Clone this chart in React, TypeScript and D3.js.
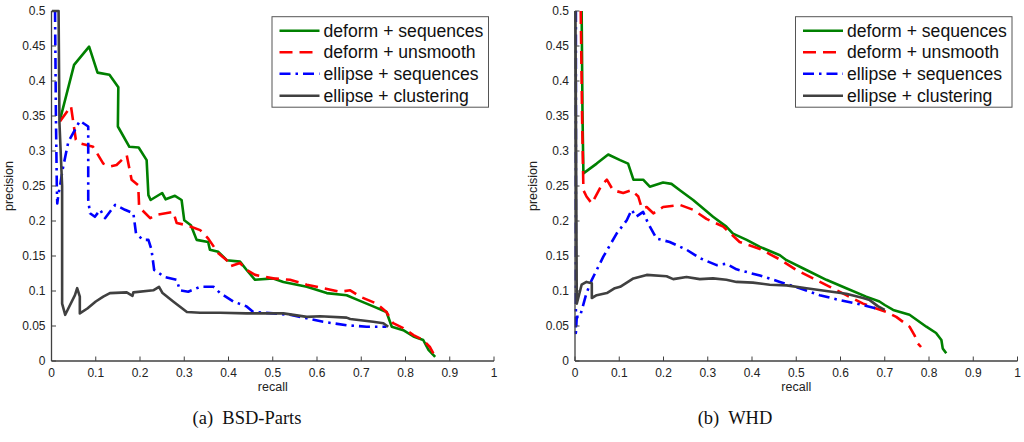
import React from "react";
import * as d3 from "d3";

// ---------- data ----------
const xTicks = [0, 0.1, 0.2, 0.3, 0.4, 0.5, 0.6, 0.7, 0.8, 0.9, 1];
const yTicks = [0, 0.05, 0.1, 0.15, 0.2, 0.25, 0.3, 0.35, 0.4, 0.45, 0.5];
const seriesNames = ["deform + sequences", "deform + unsmooth", "ellipse + sequences", "ellipse + clustering"];
const captions = ["(a)  BSD-Parts", "(b)  WHD"];

// BSD-Parts
const bsdDeformSeq: [number, number][] = [
  [0.019, 0.344], [0.051, 0.423], [0.085, 0.449], [0.104, 0.412], [0.131, 0.409], [0.151, 0.391],
  [0.15, 0.335], [0.176, 0.306], [0.197, 0.305], [0.215, 0.287], [0.219, 0.237], [0.224, 0.23],
  [0.25, 0.24], [0.258, 0.231], [0.279, 0.236], [0.294, 0.23], [0.3, 0.201], [0.315, 0.194],
  [0.328, 0.173], [0.354, 0.17], [0.358, 0.159], [0.377, 0.156], [0.396, 0.144], [0.426, 0.142],
  [0.441, 0.13], [0.46, 0.116], [0.501, 0.118], [0.524, 0.113], [0.577, 0.106], [0.622, 0.097],
  [0.667, 0.094], [0.693, 0.087], [0.727, 0.078], [0.757, 0.07], [0.769, 0.049], [0.795, 0.044],
  [0.818, 0.035], [0.84, 0.03], [0.852, 0.016], [0.867, 0.006],
];
const bsdDeformUnsmooth: [number, number][] = [
  [0.019, 0.342], [0.044, 0.364], [0.055, 0.316], [0.064, 0.311], [0.094, 0.306], [0.117, 0.282],
  [0.132, 0.278], [0.147, 0.28], [0.17, 0.294], [0.181, 0.259], [0.196, 0.251], [0.198, 0.22],
  [0.223, 0.204], [0.238, 0.209], [0.275, 0.213], [0.283, 0.197], [0.306, 0.194], [0.336, 0.187],
  [0.354, 0.175], [0.377, 0.154], [0.396, 0.144], [0.403, 0.135], [0.426, 0.14], [0.441, 0.13],
  [0.46, 0.123], [0.501, 0.118], [0.539, 0.116], [0.577, 0.109], [0.614, 0.104], [0.652, 0.099],
  [0.675, 0.101], [0.697, 0.092], [0.735, 0.082], [0.757, 0.07], [0.772, 0.054], [0.795, 0.047],
  [0.818, 0.037], [0.84, 0.03], [0.855, 0.02], [0.863, 0.011],
];
const bsdEllipseSeq: [number, number][] = [
  [0.008, 0.5], [0.01, 0.35], [0.012, 0.25], [0.013, 0.225], [0.016, 0.24], [0.019, 0.249],
  [0.025, 0.273], [0.038, 0.313], [0.064, 0.343], [0.083, 0.335], [0.083, 0.23], [0.087, 0.211],
  [0.098, 0.206], [0.11, 0.216], [0.121, 0.204], [0.144, 0.223], [0.166, 0.216], [0.185, 0.211],
  [0.191, 0.182], [0.207, 0.173], [0.219, 0.173], [0.226, 0.159], [0.232, 0.13], [0.256, 0.12],
  [0.283, 0.116], [0.29, 0.101], [0.309, 0.099], [0.336, 0.106], [0.366, 0.106], [0.381, 0.097],
  [0.411, 0.085], [0.441, 0.078], [0.456, 0.07], [0.501, 0.068], [0.539, 0.066], [0.577, 0.061],
  [0.614, 0.056], [0.667, 0.051], [0.712, 0.049], [0.757, 0.049],
];
const bsdEllipseClust: [number, number][] = [
  [0.001, 0.5], [0.016, 0.5], [0.018, 0.34], [0.024, 0.25], [0.024, 0.082], [0.031, 0.066],
  [0.038, 0.075], [0.053, 0.094], [0.058, 0.104], [0.064, 0.092], [0.064, 0.068], [0.081, 0.075],
  [0.1, 0.085], [0.117, 0.092], [0.132, 0.097], [0.17, 0.098], [0.183, 0.093], [0.185, 0.098],
  [0.23, 0.101], [0.243, 0.106], [0.251, 0.097], [0.275, 0.085], [0.306, 0.07], [0.336, 0.069],
  [0.381, 0.069], [0.441, 0.068], [0.524, 0.068], [0.577, 0.063], [0.607, 0.064], [0.667, 0.062],
  [0.675, 0.06], [0.727, 0.056], [0.75, 0.054], [0.761, 0.049],
];

// WHD
const whdDeformSeq: [number, number][] = [
  [0.015, 0.5], [0.017, 0.35], [0.019, 0.268], [0.049, 0.282], [0.075, 0.295], [0.102, 0.287],
  [0.12, 0.282], [0.132, 0.259], [0.154, 0.259], [0.169, 0.249], [0.199, 0.255], [0.218, 0.253],
  [0.237, 0.244], [0.267, 0.23], [0.312, 0.206], [0.342, 0.192], [0.357, 0.182], [0.388, 0.173],
  [0.418, 0.163], [0.463, 0.151], [0.478, 0.144], [0.523, 0.13], [0.568, 0.116], [0.613, 0.104],
  [0.658, 0.092], [0.688, 0.085], [0.7, 0.08], [0.719, 0.073], [0.756, 0.066], [0.794, 0.049],
  [0.816, 0.04], [0.828, 0.03], [0.831, 0.018], [0.839, 0.011],
];
const whdDeformUnsmooth: [number, number][] = [
  [0.013, 0.5], [0.016, 0.35], [0.019, 0.244], [0.026, 0.235], [0.038, 0.225], [0.06, 0.251],
  [0.072, 0.259], [0.086, 0.244], [0.109, 0.24], [0.128, 0.244], [0.143, 0.235], [0.151, 0.218],
  [0.162, 0.22], [0.177, 0.211], [0.199, 0.22], [0.237, 0.223], [0.267, 0.216], [0.297, 0.203],
  [0.335, 0.192], [0.372, 0.17], [0.418, 0.16], [0.463, 0.145], [0.5, 0.13], [0.538, 0.118],
  [0.576, 0.106], [0.613, 0.094], [0.651, 0.082], [0.681, 0.075], [0.704, 0.07], [0.726, 0.063],
  [0.756, 0.049], [0.767, 0.037], [0.775, 0.025], [0.782, 0.02],
];
const whdEllipseSeq: [number, number][] = [
  [0.002, 0.5], [0.002, 0.04], [0.004, 0.063], [0.011, 0.063], [0.026, 0.097], [0.038, 0.116],
  [0.064, 0.149], [0.094, 0.182], [0.117, 0.201], [0.128, 0.216], [0.138, 0.206], [0.154, 0.213],
  [0.165, 0.197], [0.184, 0.175], [0.214, 0.17], [0.252, 0.159], [0.282, 0.147], [0.32, 0.137],
  [0.342, 0.139], [0.365, 0.131], [0.418, 0.122], [0.463, 0.113], [0.508, 0.104], [0.553, 0.094],
  [0.598, 0.087], [0.643, 0.081], [0.681, 0.075],
];
const whdEllipseClust: [number, number][] = [
  [0.001, 0.5], [0.004, 0.082], [0.015, 0.109], [0.026, 0.113], [0.038, 0.111], [0.038, 0.09],
  [0.049, 0.094], [0.072, 0.097], [0.09, 0.104], [0.102, 0.106], [0.132, 0.118], [0.162, 0.123],
  [0.207, 0.121], [0.222, 0.117], [0.252, 0.12], [0.282, 0.117], [0.312, 0.118], [0.342, 0.116],
  [0.365, 0.113], [0.402, 0.112], [0.44, 0.109], [0.478, 0.108], [0.523, 0.104], [0.568, 0.1],
  [0.613, 0.096], [0.651, 0.09], [0.666, 0.087], [0.685, 0.078], [0.7, 0.073],
];

const panels = [
  { caption: captions[0], series: [bsdDeformSeq, bsdDeformUnsmooth, bsdEllipseSeq, bsdEllipseClust] },
  { caption: captions[1], series: [whdDeformSeq, whdDeformUnsmooth, whdEllipseSeq, whdEllipseClust] },
];

// ---------- styles ----------
const colors = ["#008000", "#ff0000", "#0000ff", "#404040"];
const dashes = [undefined, "13,7", "11,5,2.5,5", undefined];
const widths = [2.6, 2.6, 2.6, 2.6];
const axisColor = "#404040";
const sans = "Liberation Sans, Arial, Helvetica, sans-serif";

const panelLeft = [51.5, 575];
const axW = 442.5;
const axTop = 11;
const axBottom = 361;

function Panel({ idx }: { idx: number }) {
  const p = panels[idx];
  const x0 = panelLeft[idx];
  const x = d3.scaleLinear().domain([0, 1]).range([x0, x0 + axW]);
  const y = d3.scaleLinear().domain([0, 0.5]).range([axBottom, axTop]);
  const line = d3.line<[number, number]>().x((d) => x(d[0])).y((d) => y(d[1]));
  const legX = x(1) - 222;
  const legY = 16.7;
  const rowY = [14, 35.6, 57, 79];
  return (
    <g>
      {/* data */}
      {p.series.map((s, i) => (
        <path key={i} d={line(s) || ""} fill="none" stroke={colors[i]} strokeWidth={widths[i]}
          strokeDasharray={dashes[i]} strokeLinejoin="round" strokeLinecap="butt" />
      ))}
      {/* axes */}
      <line x1={x(0)} x2={x(0)} y1={y(0)} y2={y(0.5)} stroke={axisColor} strokeWidth={1.3} />
      <line x1={x(0)} x2={x(1)} y1={y(0)} y2={y(0)} stroke={axisColor} strokeWidth={1.3} />
      {xTicks.map((t) => (
        <g key={"x" + t}>
          <line x1={x(t)} x2={x(t)} y1={y(0)} y2={y(0) - 4.5} stroke={axisColor} strokeWidth={1} />
          <text x={x(t)} y={377} textAnchor="middle" fontFamily={sans} fontSize={12} fill="#222">{String(t)}</text>
        </g>
      ))}
      {yTicks.map((t) => (
        <g key={"y" + t}>
          <line x1={x(0)} x2={x(0) + 4.5} y1={y(t)} y2={y(t)} stroke={axisColor} strokeWidth={1} />
          <text x={x(0) - 6} y={y(t) + 4.2} textAnchor="end" fontFamily={sans} fontSize={12} fill="#222">{String(t)}</text>
        </g>
      ))}
      <text x={x(0.5)} y={391} textAnchor="middle" fontFamily={sans} fontSize={12.5} fill="#222">recall</text>
      <text transform={`translate(${x0 - 38.5},${(axTop + axBottom) / 2}) rotate(-90)`} textAnchor="middle"
        fontFamily={sans} fontSize={12.5} fill="#222">precision</text>
      {/* legend */}
      <rect x={legX} y={legY} width={216.5} height={90.5} fill="#fff" stroke="#555" strokeWidth={1} />
      {seriesNames.map((n, i) => (
        <g key={n}>
          <line x1={legX + 7.5} x2={legX + 47.5} y1={legY + rowY[i]} y2={legY + rowY[i]} stroke={colors[i]}
            strokeWidth={widths[i]} strokeDasharray={dashes[i]} />
          <text x={legX + 51.5} y={legY + rowY[i] + 6} fontFamily={sans} fontSize={17.6} fill="#111">{n}</text>
        </g>
      ))}
      {/* caption */}
      <text x={idx === 0 ? 247 : 735} y={424} textAnchor="middle" fontFamily="Liberation Serif, Times New Roman, serif"
        fontSize={18.5} fill="#111" style={{ whiteSpace: "pre" }}>{p.caption}</text>
    </g>
  );
}

export default function App() {
  return (
    <svg width={1024} height={442} style={{ position: "absolute", left: 0, top: 0, background: "#fff" }}>
      <rect x={0} y={0} width={1024} height={442} fill="#fff" />
      <Panel idx={0} />
      <Panel idx={1} />
    </svg>
  );
}
